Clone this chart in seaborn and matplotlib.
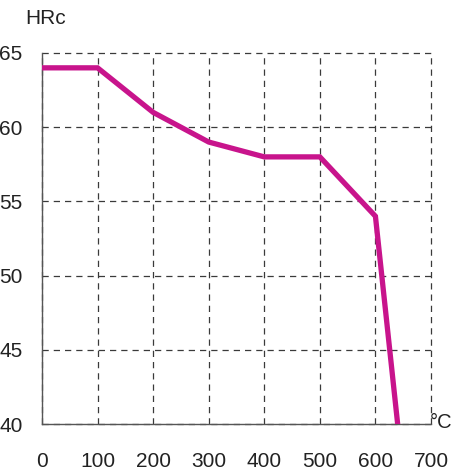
import matplotlib
matplotlib.use("Agg")
import matplotlib.pyplot as plt
import seaborn as sns
import pandas as pd

temps = [0, 100, 200, 300, 400, 500, 600, 640]
hardness = [64, 64, 61, 59, 58, 58, 54, 40]
x_ticks = [0, 100, 200, 300, 400, 500, 600, 700]
y_ticks = [40, 45, 50, 55, 60, 65]

sns.set_style("white")
FONT = ["Liberation Sans", "DejaVu Sans"]
plt.rcParams["font.family"] = FONT

df = pd.DataFrame({"temp": temps, "hrc": hardness})

fig = plt.figure(figsize=(4.54, 4.72), dpi=100)
ax = fig.add_axes([42 / 454, 1 - 424 / 472, (431 - 42) / 454, (424 - 53) / 472])

sns.lineplot(data=df, x="temp", y="hrc", ax=ax, color="#C8148C",
             linewidth=3.8, zorder=5, solid_joinstyle="miter")

ax.set_xlim(0, 700)
ax.set_ylim(40, 65)
ax.set_xticks(x_ticks)
ax.set_yticks(y_ticks)
ax.set_xticklabels([str(v) for v in x_ticks])
ax.set_yticklabels([str(v) for v in y_ticks])

ax.grid(True, linestyle=(0, (5, 4)), color="#3a3a3a", linewidth=0.9)
for gl in ax.get_xgridlines() + ax.get_ygridlines():
    gl.set_clip_on(False)
for s in ["top", "right"]:
    ax.spines[s].set_visible(False)
for s in ["left", "bottom"]:
    ax.spines[s].set_color("#555555")
    ax.spines[s].set_linewidth(1.0)

ax.tick_params(axis="x", direction="out", length=8, width=1.0, color="#555555",
               pad=12, labelsize=15, labelcolor="#222222")
ax.tick_params(axis="y", direction="out", length=8, width=1.0, color="#555555",
               pad=6, labelsize=15, labelcolor="#222222")
ax.set_xlabel("")
ax.set_ylabel("")

fig.text(25 / 454, 1 - 18 / 472, "HRc", fontsize=15, color="#222222",
         ha="left", va="center", family=FONT)
fig.text(452 / 454, 1 - 423 / 472, "°C", fontsize=14.5, color="#222222",
         ha="right", va="center", family=FONT)

fig.savefig("out.png", dpi=100)
